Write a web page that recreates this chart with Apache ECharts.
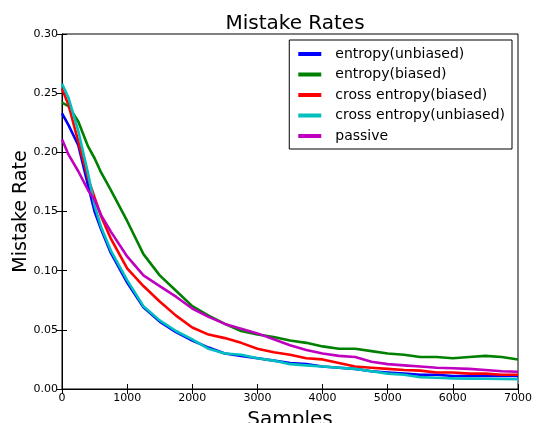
<!DOCTYPE html>
<html>
<head>
<meta charset="utf-8">
<script src="https://cdn.jsdelivr.net/npm/echarts@6/dist/echarts.min.js"></script>
<style>
	html, body { margin: 0; padding: 0; background: #fff; }
	#chart { width: 536px; height: 423px; }
</style>
</head>
<body>
<div id="chart"></div>
<script>
// sample positions (x axis)
var samples = [0, 100, 250, 400, 500, 600, 750, 1000, 1250, 1500, 1750, 2000, 2250, 2500, 2750, 3000,
	3250, 3500, 3750, 4000, 4250, 4500, 4750, 5000, 5250, 5500, 5750, 6000, 6250, 6500, 6750, 7000];

var entropyUnbiased = [0.233, 0.223, 0.206, 0.172, 0.150, 0.135, 0.115, 0.090, 0.069, 0.057, 0.048, 0.041, 0.035, 0.030, 0.028, 0.026,
	0.024, 0.022, 0.021, 0.019, 0.018, 0.017, 0.015, 0.014, 0.013, 0.012, 0.012, 0.011, 0.011, 0.011, 0.011, 0.011];
var entropyBiased = [0.242, 0.239, 0.226, 0.205, 0.195, 0.183, 0.168, 0.142, 0.114, 0.096, 0.083, 0.070, 0.062, 0.055, 0.049, 0.046,
	0.044, 0.041, 0.039, 0.036, 0.034, 0.034, 0.032, 0.030, 0.029, 0.027, 0.027, 0.026, 0.027, 0.028, 0.027, 0.025];
var crossBiased = [0.254, 0.240, 0.209, 0.178, 0.162, 0.146, 0.127, 0.102, 0.087, 0.074, 0.062, 0.052, 0.046, 0.043, 0.039, 0.034,
	0.031, 0.029, 0.026, 0.025, 0.022, 0.019, 0.018, 0.017, 0.016, 0.0155, 0.014, 0.014, 0.013, 0.013, 0.012, 0.012];
var crossUnbiased = [0.258, 0.246, 0.218, 0.182, 0.155, 0.137, 0.117, 0.092, 0.070, 0.058, 0.049, 0.042, 0.034, 0.030, 0.029, 0.026,
	0.024, 0.021, 0.020, 0.019, 0.018, 0.017, 0.015, 0.013, 0.012, 0.010, 0.0095, 0.009, 0.0088, 0.0086, 0.0084, 0.0082];
var passive = [0.211, 0.198, 0.184, 0.168, 0.160, 0.147, 0.133, 0.112, 0.096, 0.087, 0.078, 0.068, 0.061, 0.055, 0.051, 0.047,
	0.042, 0.037, 0.033, 0.030, 0.028, 0.027, 0.023, 0.021, 0.020, 0.019, 0.018, 0.0175, 0.017, 0.016, 0.015, 0.0146];

var font = "DejaVu Sans";

function pairs(vals) {
	return samples.map(function (s, i) { return [s, vals[i]]; });
}

function line(name, vals, color) {
	return {
		name: name,
		type: "line",
		data: pairs(vals),
		symbol: "none",
		smooth: false,
		lineStyle: { color: color, width: 2.6 },
		itemStyle: { color: color },
	};
}

var tickStyle = { show: true, inside: true, length: 5, lineStyle: { color: "#000", width: 1 } };

var myChart = echarts.init(document.getElementById("chart"));
var option = {
	animation: false,
	backgroundColor: "#fff",
	title: {
		text: "Mistake Rates",
		left: 290,
		textAlign: "center",
		top: 9,
		textStyle: { fontFamily: font, fontSize: 20, fontWeight: "normal", color: "#000" },
	},
	legend: {
		orient: "vertical",
		right: 24,
		top: 40,
		icon: "rect",
		itemWidth: 23,
		itemHeight: 4,
		itemGap: 6.5,
		padding: [7, 7, 6, 9],
		borderColor: "#000",
		borderWidth: 1,
		borderRadius: 0,
		backgroundColor: "#fff",
		textStyle: { fontFamily: font, fontSize: 14, color: "#000", padding: [0, 0, 0, 9] },
		data: ["entropy(unbiased)", "entropy(biased)", "cross entropy(biased)", "cross entropy(unbiased)", "passive"],
	},
	grid: {
		left: 62,
		right: 18,
		top: 34,
		bottom: 34,
		containLabel: false,
		outerBoundsMode: "none",
		show: true,
		borderColor: "#000",
		borderWidth: 1,
	},
	xAxis: [
		{
			type: "value",
			min: 0,
			max: 7000,
			interval: 1000,
			name: "Samples",
			nameLocation: "middle",
			nameGap: 21,
			nameMoveOverlap: false,
			nameTextStyle: { fontFamily: font, fontSize: 20, color: "#000" },
			axisLine: { show: true, onZero: false, lineStyle: { color: "#000" } },
			axisTick: tickStyle,
			axisLabel: {
				fontFamily: font, fontSize: 11, color: "#000", margin: 4,
				formatter: function (v) { return String(v); },
			},
			splitLine: { show: false },
		},
		{
			type: "value",
			position: "top",
			min: 0,
			max: 7000,
			interval: 1000,
			axisLine: { show: true, lineStyle: { color: "#000" } },
			axisTick: tickStyle,
			axisLabel: { show: false },
			splitLine: { show: false },
		},
	],
	yAxis: [
		{
			type: "value",
			min: 0,
			max: 0.3,
			interval: 0.05,
			name: "Mistake Rate",
			nameLocation: "middle",
			nameGap: 31,
			nameMoveOverlap: false,
			nameTextStyle: { fontFamily: font, fontSize: 19, color: "#000" },
			axisLine: { show: true, onZero: false, lineStyle: { color: "#000" } },
			axisTick: tickStyle,
			axisLabel: {
				fontFamily: font, fontSize: 11, color: "#000", margin: 4,
				formatter: function (v) { return v.toFixed(2); },
			},
			splitLine: { show: false },
		},
		{
			type: "value",
			position: "right",
			min: 0,
			max: 0.3,
			interval: 0.05,
			axisLine: { show: true, lineStyle: { color: "#000" } },
			axisTick: tickStyle,
			axisLabel: { show: false },
			splitLine: { show: false },
		},
	],
	series: [
		line("entropy(unbiased)", entropyUnbiased, "#0000ff"),
		line("entropy(biased)", entropyBiased, "#008000"),
		line("cross entropy(biased)", crossBiased, "#ff0000"),
		line("cross entropy(unbiased)", crossUnbiased, "#00bfbf"),
		line("passive", passive, "#bf00bf"),
	],
};
myChart.setOption(option);
</script>
</body>
</html>
